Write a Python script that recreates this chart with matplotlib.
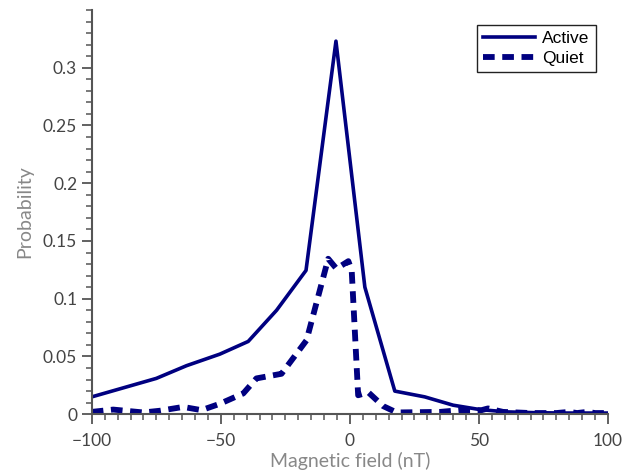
import matplotlib
matplotlib.use('Agg')
import matplotlib.pyplot as plt
from matplotlib.ticker import MultipleLocator

# Distribution of magnetic field values
active_x = [-100, -75, -63.3, -50.4, -39.4, -28.4, -17, -5.4, 5.8, 17.4, 29, 40, 50.4, 60.7, 72, 83, 94, 100]
active_y = [0.015, 0.031, 0.042, 0.052, 0.063, 0.090, 0.1245, 0.323, 0.110, 0.020, 0.015, 0.0078, 0.004, 0.002, 0.0013, 0.001, 0.001, 0.001]

quiet_x = [-100, -91.7, -80, -73.6, -64.6, -57.5, -50.4, -41.3, -36.2, -26.5, -16.8, -8.4, -5.2, -0.6, 0.7,
           3.2, 7.1, 12.9, 18.1, 35, 42.6, 51, 53.5, 59.3, 70, 80, 85, 88, 92, 95, 100]
quiet_y = [0.002, 0.004, 0.0015, 0.003, 0.0063, 0.0035, 0.009, 0.018, 0.031, 0.035, 0.064, 0.1346, 0.126, 0.1325, 0.1245,
           0.0164, 0.019, 0.007, 0.0015, 0.002, 0.0035, 0.0035, 0.005, 0.002, 0.001, 0.001, 0.002, 0.001, 0.002, 0.001, 0.001]

xticks = [-100, -50, 0, 50, 100]
xticklabels = ['\u2212100', '\u221250', '0', '50', '100']
yticks = [0, 0.05, 0.1, 0.15, 0.2, 0.25, 0.3]
yticklabels = ['0', '0.05', '0.1', '0.15', '0.2', '0.25', '0.3']

navy = '#000080'
axcol = '#555555'

plt.rcParams['font.family'] = ['Lato', 'DejaVu Sans']

fig = plt.figure(figsize=(6.33, 4.75), dpi=100)
ax = fig.add_axes([0.145, 0.128, 0.8155, 0.851])

ax.plot(active_x, active_y, color=navy, lw=2.6, label='Active')
ax.plot(quiet_x, quiet_y, color=navy, lw=4.2, ls=(0, (2.0, 1.3)), label='Quiet')

ax.set_xlim(-100, 100)
ax.set_ylim(0, 0.35)
ax.set_xticks(xticks)
ax.set_xticklabels(xticklabels)
ax.set_yticks(yticks)
ax.set_yticklabels(yticklabels)
ax.xaxis.set_minor_locator(MultipleLocator(5))
ax.yaxis.set_minor_locator(MultipleLocator(0.01))

for s in ['top', 'right']:
    ax.spines[s].set_visible(False)
for s in ['left', 'bottom']:
    ax.spines[s].set_color(axcol)
    ax.spines[s].set_linewidth(1.5)

ax.tick_params(which='major', direction='out', length=7, width=1.3, color=axcol,
               labelcolor='#444444', labelsize=12.5)
ax.tick_params(axis='x', which='major', pad=6.5)
ax.tick_params(which='minor', direction='out', length=4.3, width=1.1, color=axcol)

ax.set_xlabel('Magnetic field (nT)', color='#888888', fontsize=14, labelpad=2.5)
ax.set_ylabel('Probability', color='#888888', fontsize=14, labelpad=7)

leg = ax.legend(loc='upper right', bbox_to_anchor=(0.993, 0.985), fancybox=False, framealpha=1,
                edgecolor='#222222', handlelength=3.0, borderpad=0.35, labelspacing=0.3,
                handletextpad=0.4, prop={'family': 'Liberation Sans', 'size': 12.5})
leg.get_frame().set_linewidth(1.0)

plt.savefig('out.png', dpi=100)
